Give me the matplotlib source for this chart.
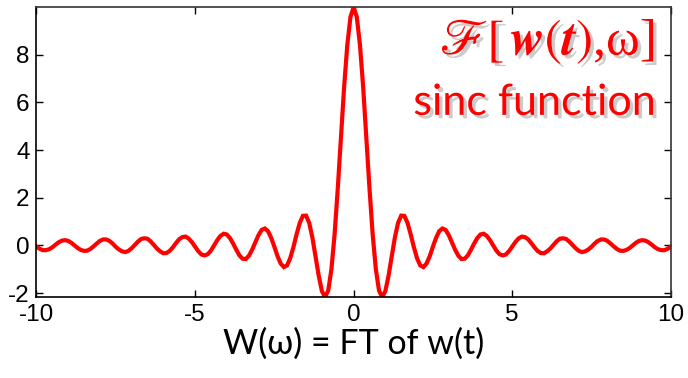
import numpy as np
import matplotlib.pyplot as plt
import matplotlib.patheffects as pe

# frequency axis (rad/s), sampled every 0.1
omega = np.round(np.arange(-100, 101) / 10, 1)

# W(omega), from -10 to 10
W = [
    -0.05, -0.14, -0.20, -0.20, -0.16, -0.08, 0.03, 0.13, 0.20, 0.22,
    0.19, 0.11, 0.00, -0.11, -0.19, -0.23, -0.22, -0.15, -0.04, 0.08,
    0.19, 0.25, 0.25, 0.19, 0.08, -0.06, -0.17, -0.25, -0.28, -0.23,
    -0.12, 0.02, 0.16, 0.27, 0.30, 0.28, 0.17, 0.02, -0.13, -0.25,
    -0.33, -0.32, -0.23, -0.08, 0.10, 0.26, 0.35, 0.37, 0.29, 0.14,
    -0.05, -0.24, -0.38, -0.42, -0.37, -0.22, 0.00, 0.22, 0.40, 0.49,
    0.46, 0.31, 0.08, -0.18, -0.42, -0.56, -0.57, -0.43, -0.18, 0.13,
    0.43, 0.65, 0.71, 0.60, 0.32, -0.05, -0.45, -0.76, -0.91, -0.84,
    -0.54, -0.08, 0.46, 0.94, 1.24, 1.25, 0.94, 0.33, -0.47, -1.28,
    -1.92, -2.17, -1.89, -1.00, 0.47, 2.39, 4.55, 6.65, 8.41, 9.59,
    10.00,
    9.59, 8.41, 6.65, 4.55, 2.39, 0.47, -1.00, -1.89, -2.17, -1.92,
    -1.28, -0.47, 0.33, 0.94, 1.25, 1.24, 0.94, 0.46, -0.08, -0.54,
    -0.84, -0.91, -0.76, -0.45, -0.05, 0.32, 0.60, 0.71, 0.65, 0.43,
    0.13, -0.18, -0.43, -0.57, -0.56, -0.42, -0.18, 0.08, 0.31, 0.46,
    0.49, 0.40, 0.22, 0.00, -0.22, -0.37, -0.42, -0.38, -0.24, -0.05,
    0.14, 0.29, 0.37, 0.35, 0.26, 0.10, -0.08, -0.23, -0.32, -0.33,
    -0.25, -0.13, 0.02, 0.17, 0.28, 0.30, 0.27, 0.16, 0.02, -0.12,
    -0.23, -0.28, -0.25, -0.17, -0.06, 0.08, 0.19, 0.25, 0.25, 0.19,
    0.08, -0.04, -0.15, -0.22, -0.23, -0.19, -0.11, 0.00, 0.11, 0.19,
    0.22, 0.20, 0.13, 0.03, -0.08, -0.16, -0.20, -0.20, -0.14, -0.05,
]

xticks = [-10, -5, 0, 5, 10]
yticks = [-2, 0, 2, 4, 6, 8]

plt.rcParams['mathtext.fontset'] = 'stix'
plt.rcParams['axes.unicode_minus'] = False

fig = plt.figure(figsize=(6.88, 3.78), dpi=100)
ax = fig.add_axes([0.053, 0.214, 0.922, 0.767])

ax.plot(omega, W, color='red', linewidth=3, solid_joinstyle='miter')

ax.set_xlim(-10, 10)
ax.set_ylim(min(W), max(W))
ax.set_xticks(xticks)
ax.set_yticks(yticks)
ax.tick_params(direction='in', length=5, width=1, top=True, right=True,
               labelsize=17.5, pad=5)
for lab in ax.get_xticklabels() + ax.get_yticklabels():
    lab.set_fontfamily('Liberation Sans')
for s in ax.spines.values():
    s.set_linewidth(1.2)
ax.spines['top'].set_color('#333333')
ax.spines['right'].set_color('#333333')

ax.set_xlabel('W(\u03c9) = FT of w(t)', fontsize=24.5, family='Lato', labelpad=1)

shadow = [pe.SimplePatchShadow(offset=(2.5, -2.5), shadow_rgbFace='#999999', alpha=0.5),
          pe.Normal()]
title = r'$\mathscr{F}[\,\boldsymbol{w}(\boldsymbol{t})$' + ',\u03c9]'
ax.text(0.975, 0.88, title,
        transform=ax.transAxes, ha='right', va='center', color='red',
        fontsize=37, family='Liberation Serif', path_effects=shadow)
ax.text(0.975, 0.67, 'sinc function', transform=ax.transAxes, ha='right',
        va='center', color='red', fontsize=31, family='Lato',
        path_effects=shadow)

fig.savefig('out.png', dpi=100)
